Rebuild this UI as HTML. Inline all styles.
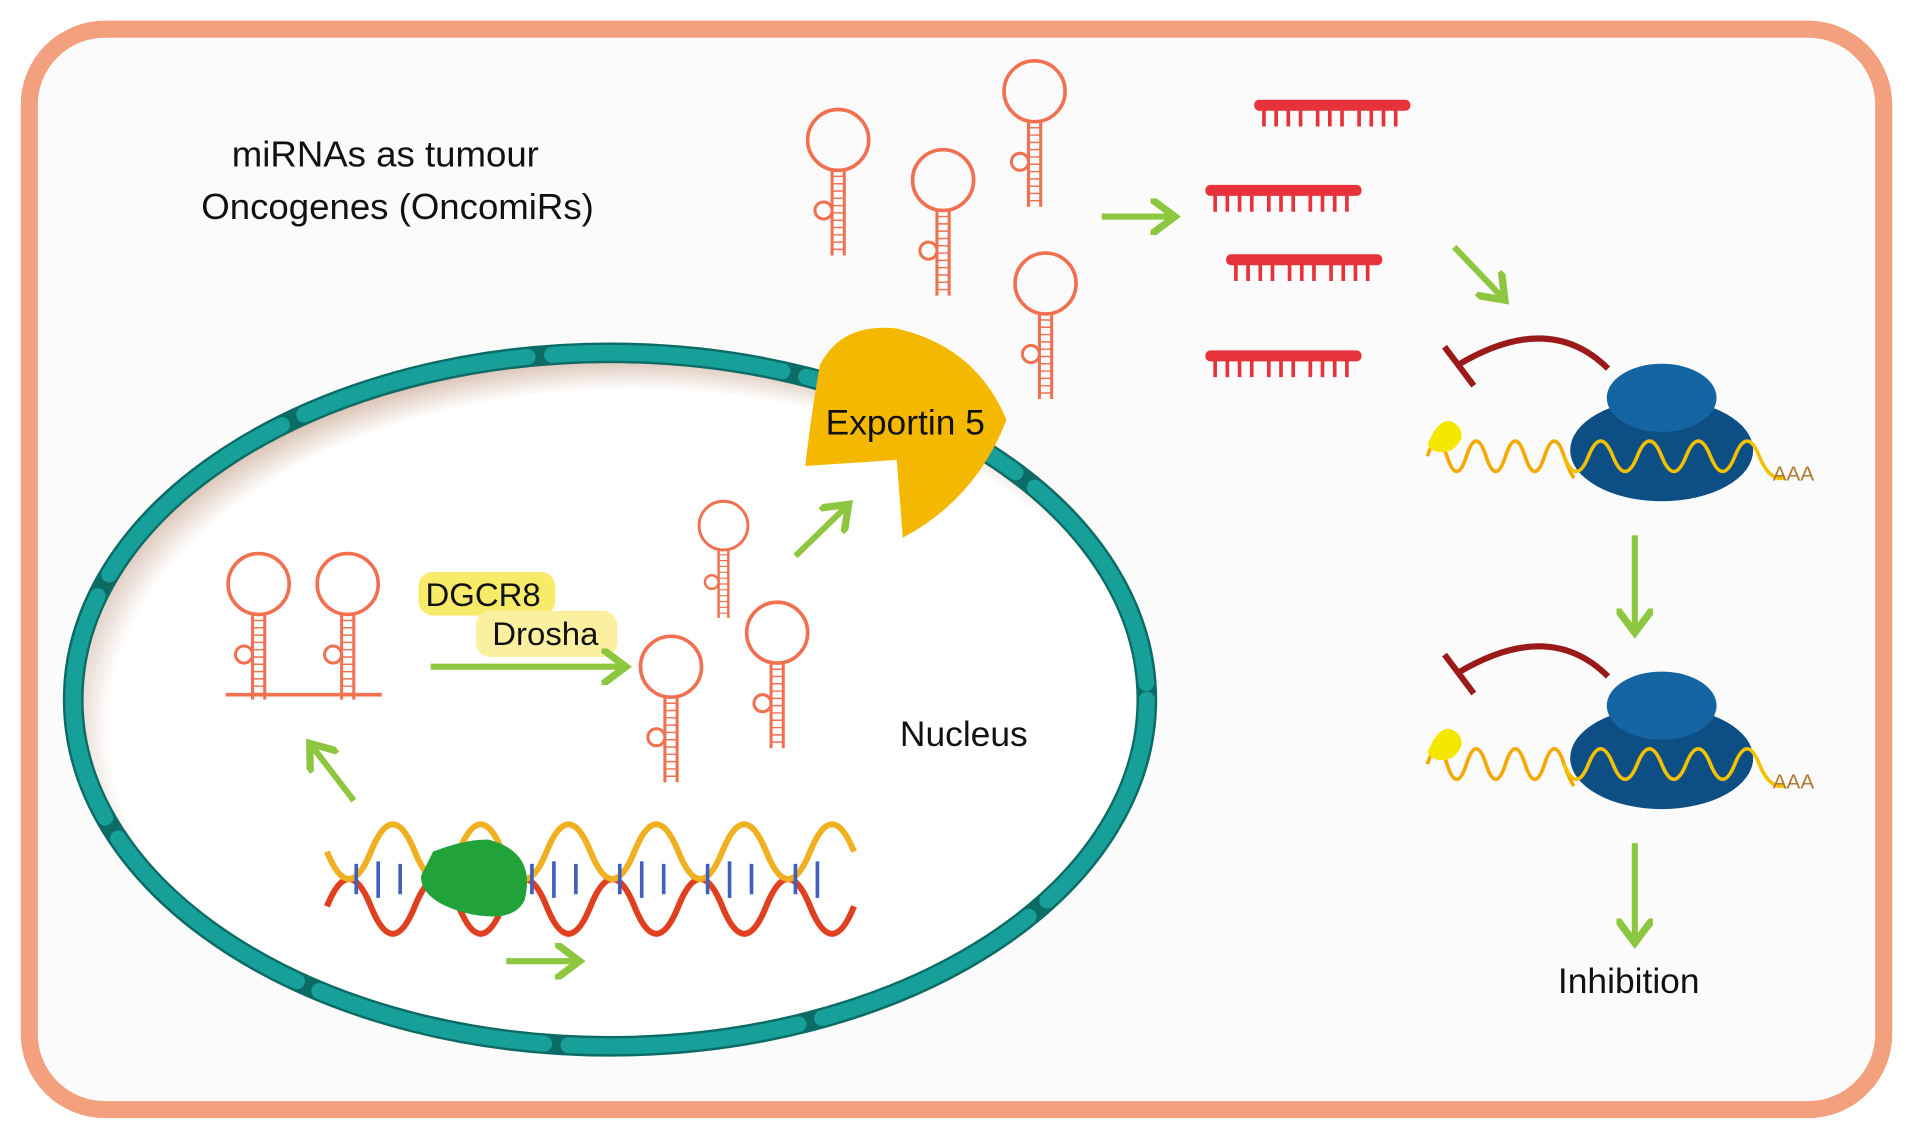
<!DOCTYPE html>
<html><head><meta charset="utf-8"><style>
html,body{margin:0;padding:0;background:#fff;}
svg{display:block;}
text{font-family:"Liberation Sans",Arial,sans-serif;}
</style></head><body>
<svg width="1913" height="1140" viewBox="0 0 1568 937" preserveAspectRatio="none" xmlns="http://www.w3.org/2000/svg">
<defs>
<radialGradient id="nuc" cx="0.52" cy="0.54" r="0.56">
<stop offset="0.87" stop-color="#ffffff"/>
<stop offset="0.96" stop-color="#d6bcac"/>
<stop offset="1" stop-color="#8a5a40"/>
</radialGradient>
<g id="hp">
<circle cx="0" cy="0" r="25" fill="none" stroke="#F07050" stroke-width="3"/>
<line x1="-5" y1="24" x2="-5" y2="95" stroke="#F07050" stroke-width="2.5"/>
<line x1="5" y1="24" x2="5" y2="95" stroke="#F07050" stroke-width="2.5"/>
<path d="M-5 30h10M-5 36h10M-5 42h10M-5 48h10M-5 54h10M-5 60h10M-5 66h10M-5 72h10M-5 78h10M-5 84h10M-5 90h10" stroke="#F07050" stroke-width="1.2"/>
<circle cx="-12" cy="58" r="7" fill="#fff" stroke="#F07050" stroke-width="2.5"/>
</g>
<g id="bar">
<rect x="0" y="0" width="128" height="9" rx="4" fill="#E8323A"/>
<path d="M8 8v14M18 8v14M28 8v14M38 8v14M52 8v14M62 8v14M72 8v14M86 8v14M96 8v14M106 8v14M116 8v14" stroke="#E8323A" stroke-width="3"/>
</g>
<marker id="ga" markerWidth="6" markerHeight="6" refX="3" refY="3" orient="auto" markerUnits="strokeWidth"><path d="M0,0 L4,3 L0,6" fill="none" stroke="#8DC63F" stroke-width="1.2"/></marker>
<g id="ribo">
<path d="M0 0 q8 -25 16 0 q8 25 16 0 q8 -25 16 0 q8 25 16 0 q8 -25 16 0 q8 25 16 0 q8 -25 16 0 q4 12 8 18" fill="none" stroke="#F5A800" stroke-width="3"/>
<ellipse cx="192" cy="-5" rx="75" ry="42" fill="#0D4F85"/>
<ellipse cx="192" cy="-48" rx="45" ry="28" fill="#1565A3"/>
<path d="M112 0 q10 25 20 0 q10 -25 20 0 q10 25 20 0 q10 -25 20 0 q10 25 20 0 q10 -25 20 0 q10 25 20 0 q10 -25 20 0 q8 20 20 18" fill="none" stroke="#F5C000" stroke-width="3"/>
<path d="M5 -20 q10 -15 20 -5 q8 10 -5 20 q-15 5 -20 -5 z" fill="#F5E800"/>
<text x="283" y="20" font-size="17" fill="#B07830">AAA</text>
<path d="M148 -72 Q100 -120 25 -75" fill="none" stroke="#9A1A1A" stroke-width="5"/>
<line x1="14" y1="-90" x2="38" y2="-58" stroke="#9A1A1A" stroke-width="5"/>
</g>
</defs>
<rect x="0" y="0" width="1568" height="937" fill="#fff"/>
<rect x="24" y="24" width="1520" height="888" rx="62" fill="#FBFBFB" stroke="#F2A07E" stroke-width="14"/>
<text x="190" y="137" font-size="30" fill="#111">miRNAs as tumour</text>
<text x="165" y="180" font-size="30" fill="#111">Oncogenes (OncomiRs)</text>
<ellipse cx="500" cy="575" rx="440" ry="285" fill="url(#nuc)"/>
<ellipse cx="500" cy="575" rx="440" ry="285" fill="none" stroke="#0D6B66" stroke-width="17"/>
<ellipse cx="500" cy="575" rx="440" ry="285" fill="none" stroke="#17A09A" stroke-width="13" stroke-dasharray="190 20" stroke-linecap="round"/>
<use href="#hp" x="687" y="115"/>
<use href="#hp" x="773" y="148"/>
<use href="#hp" x="848" y="75"/>
<use href="#hp" x="857" y="233"/>
<path d="M672 300 Q690 265 735 270 Q800 285 825 345 Q800 410 740 442 L735 378 L660 383 Q665 340 672 300 Z" fill="#F5B800"/>
<text x="742" y="357" font-size="29" text-anchor="middle" fill="#111">Exportin 5</text>
<use href="#hp" x="212" y="480"/>
<use href="#hp" x="285" y="480"/>
<line x1="185" y1="571" x2="313" y2="571" stroke="#F07050" stroke-width="3"/>
<use href="#hp" x="593" y="432" transform="translate(593 432) scale(0.8) translate(-593 -432)"/>
<use href="#hp" x="637" y="520"/>
<use href="#hp" x="550" y="548"/>
<rect x="343" y="470" width="112" height="36" rx="12" fill="#F8EB6A"/>
<text x="396" y="498" font-size="27" text-anchor="middle" fill="#111">DGCR8</text>
<rect x="390" y="502" width="116" height="38" rx="12" fill="#FAF0A0"/>
<text x="447" y="530" font-size="27" text-anchor="middle" fill="#111">Drosha</text>
<text x="790" y="613" font-size="29" text-anchor="middle" fill="#111">Nucleus</text>
<g stroke="#8DC63F" stroke-width="5" fill="none" marker-end="url(#ga)">
<line x1="353" y1="548" x2="508" y2="548"/>
<line x1="652" y1="457" x2="692" y2="418"/>
<line x1="290" y1="658" x2="257" y2="615"/>
<line x1="415" y1="790" x2="470" y2="790"/>
<line x1="903" y1="178" x2="958" y2="178"/>
<line x1="1192" y1="203" x2="1230" y2="243"/>
<line x1="1340" y1="440" x2="1340" y2="515"/>
<line x1="1340" y1="693" x2="1340" y2="770"/>
</g>
<g fill="none" stroke-width="5">
<path d="M268 745 q18 -45 36 0 t36 0 t36 0 t36 0 t36 0 t36 0 t36 0 t36 0 t36 0 t36 0 t36 0 t36 0" stroke="#E04020"/>
<path d="M268 700 q18 45 36 0 t36 0 t36 0 t36 0 t36 0 t36 0 t36 0 t36 0 t36 0 t36 0 t36 0 t36 0" stroke="#F0B020"/>
<path d="M292 710v25M310 708v30M328 710v25M364 710v25M382 708v30M400 710v25M436 710v25M454 708v30M472 710v25M508 710v25M526 708v30M544 710v25M580 710v25M598 708v30M616 710v25M652 710v25M670 708v30" stroke="#4060C0" stroke-width="3"/>
</g>
<path d="M355 700 Q380 690 400 690 Q440 700 430 740 Q420 760 380 750 Q345 740 345 720 Z" fill="#22A33A"/>
<use href="#bar" x="1028" y="82"/>
<use href="#bar" x="988" y="152"/>
<use href="#bar" x="1005" y="209"/>
<use href="#bar" x="988" y="288"/>
<use href="#ribo" x="1170" y="375"/>
<use href="#ribo" x="1170" y="628"/>
<text x="1335" y="816" font-size="29" text-anchor="middle" fill="#111">Inhibition</text>
</svg>
</body></html>
